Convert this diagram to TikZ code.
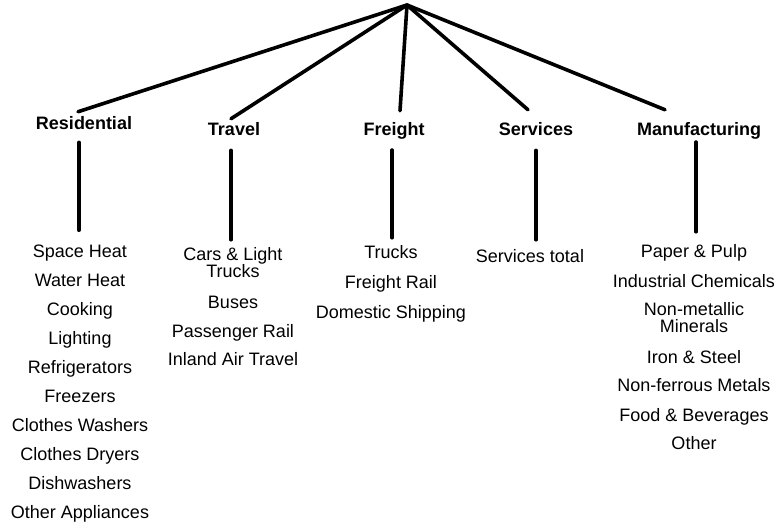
\documentclass[tikz,border=0pt]{standalone}
\usepackage{fontspec}
\setmainfont{Liberation Sans}
\usetikzlibrary{positioning}
\newcommand\listfont{\fontsize{18}{17}\selectfont\lineskiplimit-20pt\relax}
\begin{document}
\begin{tikzpicture}[x=1pt,y=-1pt,
  every node/.style={font=\listfont,inner sep=0pt,anchor=base},
  sector/.style={font=\listfont\bfseries},
  item/.style={align=center},
  branch/.style={line width=3.6pt,line cap=round},
  stem/.style={line width=3.6pt,line cap=round}
]
\useasboundingbox (0,0) rectangle (782,523);
\coordinate (top) at (407,5);

% sectors
\node[sector] (res) at (84,129) {Residential};
\node[sector] (trav) at (234,135) {Travel};
\node[sector] (frt) at (394,135) {Freight};
\node[sector] (serv) at (536,135) {Services};
\node[sector] (manu) at (699,135) {Manufacturing};

% end uses (base = last line)
\foreach \txt/\y [count=\i] in {Space Heat/257,Water Heat/286,Cooking/315,Lighting/344,Refrigerators/373,Freezers/402,Clothes Washers/431,Clothes Dryers/460,Dishwashers/489,Other Appliances/518}
  \node[item] (res\i) at (80,\y) {\txt};
\foreach \txt/\y [count=\i] in {{Cars \& Light\\Trucks}/277,Buses/308,Passenger Rail/337,Inland Air Travel/365}
  \node[item] (trav\i) at (233,\y) {\txt};
\foreach \txt/\y [count=\i] in {Trucks/258,Freight Rail/288,Domestic Shipping/318}
  \node[item] (frt\i) at (391,\y) {\txt};
\node[item] (serv1) at (530,262) {Services total};
\foreach \txt/\y [count=\i] in {Paper \& Pulp/257,Industrial Chemicals/287,{Non-metallic\\Minerals}/332,Iron \& Steel/363,Non-ferrous Metals/391,Food \& Beverages/421,Other/449}
  \node[item] (manu\i) at (694,\y) {\txt};

% branches from the top
\draw[branch] (top) -- ([shift={(-6pt,4pt)}]res.north);
\draw[branch] (top) -- ([shift={(-3pt,3pt)}]trav.north);
\draw[branch] (top) -- ([shift={(6pt,11pt)}]frt.north);
\draw[branch] (top) -- ([shift={(-8pt,12pt)}]serv.north);
\draw[branch] (top) -- ([shift={(-34pt,12pt)}]manu.north);

% stems down to the lists
\draw[stem] ([shift={(-5pt,-13pt)}]res.south) -- ([shift={(-5pt,14pt)}]res.south |- res1.north);
\draw[stem] ([shift={(-3pt,-15pt)}]trav.south) -- ([shift={(-3pt,7pt)}]trav.south |- trav1.north);
\draw[stem] ([shift={(-2pt,-11pt)}]frt.south) -- ([shift={(-2pt,7pt)}]frt.south |- frt1.north);
\draw[stem] ([yshift=-15pt]serv.south) -- ([yshift=9pt]serv.south |- serv1.north);
\draw[stem] ([shift={(-3pt,-3pt)}]manu.south) -- ([shift={(-3pt,12pt)}]manu.south |- manu1.north);
\end{tikzpicture}
\end{document}
